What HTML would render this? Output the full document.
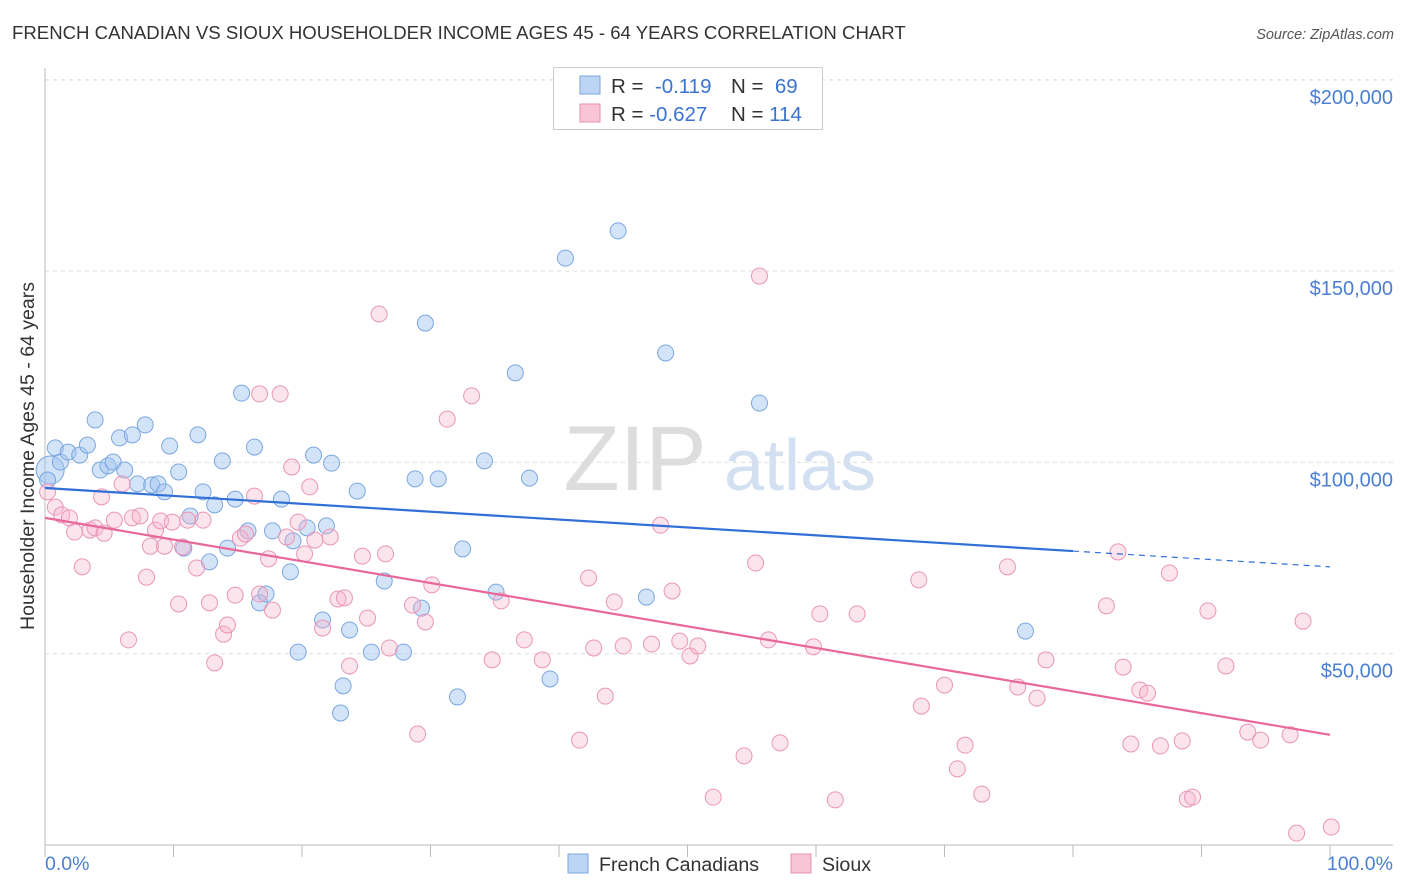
<!DOCTYPE html>
<html><head><meta charset="utf-8"><style>
body{margin:0;background:#fff;font-family:"Liberation Sans",sans-serif;}
#wrap{position:relative;width:1406px;height:892px;overflow:hidden;}
svg text{font-family:"Liberation Sans",sans-serif;}
</style></head><body>
<div id="wrap">
<svg id="chart" width="1406" height="892">
<text x="12" y="39" font-size="18.6" fill="#333">FRENCH CANADIAN VS SIOUX HOUSEHOLDER INCOME AGES 45 - 64 YEARS CORRELATION CHART</text>
<text x="1394" y="39" font-size="14.5" fill="#555" font-style="italic" text-anchor="end">Source: ZipAtlas.com</text>
<g><text x="635" y="490" font-size="92" fill="#ddd" font-family="Liberation Serif" text-anchor="middle">ZIP</text><text x="800" y="490" font-size="72" fill="#d3e0f2" text-anchor="middle">atlas</text></g>
<g id="grid"></g>
<g id="axes"></g>
<g id="pts"></g>
<g id="lines"></g>
<text transform="translate(34,456) rotate(-90)" font-size="19.5" fill="#333" text-anchor="middle">Householder Income Ages 45 - 64 years</text>
<text x="45" y="870" font-size="19.5" fill="#4a7fd4">0.0%</text>
<text x="1393" y="870" font-size="19.5" fill="#4a7fd4" text-anchor="end">100.0%</text>
<g>
<rect x="553.5" y="67.5" width="269" height="62" fill="#fff" stroke="#ccc"/>
<rect x="580" y="76" width="20" height="18" fill="#bcd5f5" stroke="#7aa7e0"/>
<rect x="580" y="104" width="20" height="18" fill="#f9c5d6" stroke="#e890b0"/>
<text x="611" y="93" font-size="20.5" fill="#333">R = <tspan fill="#3a74d0">&#160;-0.119</tspan><tspan x="731">N = </tspan><tspan fill="#3a74d0">&#160;69</tspan></text>
<text x="611" y="121" font-size="20.5" fill="#333">R = <tspan fill="#3a74d0">-0.627</tspan><tspan x="731">N = </tspan><tspan fill="#3a74d0">114</tspan></text>
</g>
<g>
<rect x="568" y="854" width="20" height="19" fill="#bcd5f5" stroke="#7aa7e0"/>
<text x="599" y="871" font-size="19.6" fill="#333">French Canadians</text>
<rect x="791" y="854" width="20" height="19" fill="#f9c5d6" stroke="#e890b0"/>
<text x="822" y="871" font-size="19.6" fill="#333">Sioux</text>
</g>
</svg>
</div>
<script>
const yTicks=[50,100,150,200];
const yTickLabels=["$50,000","$100,000","$150,000","$200,000"];
const xTicks=[0,10,20,30,40,50,60,70,80,90,100];
const blueX=[0.4,0.8,1.2,1.8,2.7,3.3,3.9,4.3,4.9,5.3,5.8,6.2,6.8,7.2,7.8,8.3,8.8,9.3,9.7,10.4,10.8,11.3,11.9,12.3,12.8,13.2,13.8,14.2,14.8,15.3,15.8,16.3,16.7,17.2,17.7,18.4,19.1,19.3,19.7,20.4,20.9,21.6,21.9,22.3,23.2,23.0,23.7,24.3,25.4,26.4,27.9,28.8,29.3,29.6,30.6,32.1,32.5,34.2,35.1,36.6,37.7,39.3,40.5,44.6,46.8,48.3,55.6,76.3,0.2];
const blueY=[98.0,103.8,100.1,102.7,101.9,104.5,111.1,98.0,99.1,100.1,106.4,98.0,107.2,94.4,109.8,94.1,94.4,92.3,104.3,97.5,77.6,86.0,107.2,92.3,74.0,88.9,100.4,77.6,90.4,118.1,82.1,104.0,63.3,65.6,82.1,90.4,71.4,79.5,50.4,82.9,101.9,58.8,83.4,99.8,41.6,34.5,56.2,92.5,50.4,69.0,50.4,95.7,61.9,136.4,95.7,38.7,77.4,100.4,66.1,123.4,95.9,43.4,153.4,160.5,64.8,128.6,115.5,55.9,95.4];
const pinkX=[0.2,0.8,1.3,1.9,2.3,2.9,3.5,3.9,4.4,4.6,5.4,6.0,6.5,6.8,7.4,7.9,8.2,8.6,9.0,9.3,9.9,10.4,10.7,11.1,11.8,12.3,12.8,13.2,13.9,14.2,14.8,15.2,15.6,16.3,16.7,17.4,17.7,16.7,18.3,18.8,19.2,19.7,20.2,20.6,21.0,21.6,22.2,22.8,23.3,23.7,24.7,25.1,26.0,26.5,26.8,28.6,29.0,29.6,30.1,31.3,33.2,34.8,35.5,37.3,38.7,41.6,42.3,42.7,43.6,44.3,45.0,47.2,47.9,48.8,49.4,50.2,50.8,52.0,54.4,55.3,55.6,56.3,57.2,59.8,60.3,61.5,63.2,68.0,68.2,70.0,71.0,71.6,72.9,74.9,75.7,77.2,77.9,82.6,83.5,83.9,84.5,85.2,85.8,86.8,87.5,88.5,88.9,89.3,90.5,91.9,93.6,94.6,96.9,97.9,97.4,100.1];
const pinkY=[92.3,88.3,86.3,85.5,81.8,72.7,82.3,82.9,91.0,81.5,84.9,94.4,53.6,85.5,86.0,70.0,78.1,82.3,84.7,78.1,84.4,63.0,77.9,84.9,72.4,84.9,63.3,47.6,55.1,57.5,65.3,80.2,81.3,91.2,65.6,74.8,61.4,117.9,117.9,80.5,98.8,84.4,76.1,93.6,79.7,56.7,80.5,64.3,64.6,46.8,75.5,59.3,138.8,76.1,51.5,62.7,29.0,58.3,68.0,111.3,117.4,48.4,63.8,53.6,48.4,27.4,69.8,51.5,38.9,63.5,52.0,52.5,83.6,66.4,53.3,49.4,52.0,12.5,23.3,73.7,148.7,53.6,26.7,51.8,60.4,11.8,60.4,69.3,36.3,41.8,19.9,26.1,13.3,72.7,41.3,38.4,48.4,62.5,76.6,46.5,26.4,40.5,39.7,25.9,71.1,27.2,12.0,12.5,61.2,46.8,29.5,27.4,28.8,58.5,3.1,4.7];
const blueFit=[93.3,-0.206];
const pinkFit=[85.5,-0.567];
const X0=45,X1=1330,Y0=845,PX=(X1-X0)/100,PY=191.3/50;
const sx=v=>X0+v*PX, sy=v=>Y0-v*PY;
const NS="http://www.w3.org/2000/svg";
function mk(tag,parent,attrs){const e=document.createElementNS(NS,tag);for(const k in attrs)e.setAttribute(k,attrs[k]);document.getElementById(parent).appendChild(e);return e;}
yTicks.forEach((t,i)=>{
 const g=mk('line','grid',{x1:45,x2:1393,y1:sy(t),y2:sy(t),stroke:'#ddd','stroke-dasharray':'4,4'});
 
 
 const l=mk('text','grid',{x:1393,y:sy(t)+24,'font-size':20,fill:'#4a7fd4','text-anchor':'end'});
 l.textContent=yTickLabels[i];
 
 
});
const tg=mk('line','grid',{x1:45,x2:1393,y1:80,y2:80,stroke:'#ddd','stroke-dasharray':'4,4'});


const ax=mk('line','axes',{x1:45,x2:1393,y1:Y0,y2:Y0,stroke:'#bbb'});


const ay=mk('line','axes',{x1:45,x2:45,y1:68,y2:Y0,stroke:'#bbb'});


xTicks.forEach(t=>{
 const k=mk('line','axes',{x1:sx(t),x2:sx(t),y1:Y0,y2:Y0+12,stroke:'#bbb'});
 
 
});
blueX.forEach((x,i)=>{
 const c=mk('circle','pts',{cx:sx(x),cy:sy(blueY[i]),r:i===0?14:8,fill:'rgba(160,196,240,0.45)',stroke:'#7aa7e0','stroke-width':1});
 
 
});
pinkX.forEach((x,i)=>{
 const c=mk('circle','pts',{cx:sx(x),cy:sy(pinkY[i]),r:8,fill:'rgba(246,178,202,0.35)',stroke:'#e996b5','stroke-width':1});
 
 
});
const f=(p,x)=>p[0]+p[1]*x;
const bl=mk('line','lines',{x1:sx(0),y1:sy(f(blueFit,0)),x2:sx(80),y2:sy(f(blueFit,80)),stroke:'#2f6fd6','stroke-width':2.2});


const bd=mk('line','lines',{x1:sx(80),y1:sy(f(blueFit,80)),x2:sx(100),y2:sy(f(blueFit,100)),stroke:'#2f6fd6','stroke-width':1.2,'stroke-dasharray':'6,5'});


const pl=mk('line','lines',{x1:sx(0),y1:sy(f(pinkFit,0)),x2:sx(100),y2:sy(f(pinkFit,100)),stroke:'#e8689a','stroke-width':2.2});


</script>
</body></html>
